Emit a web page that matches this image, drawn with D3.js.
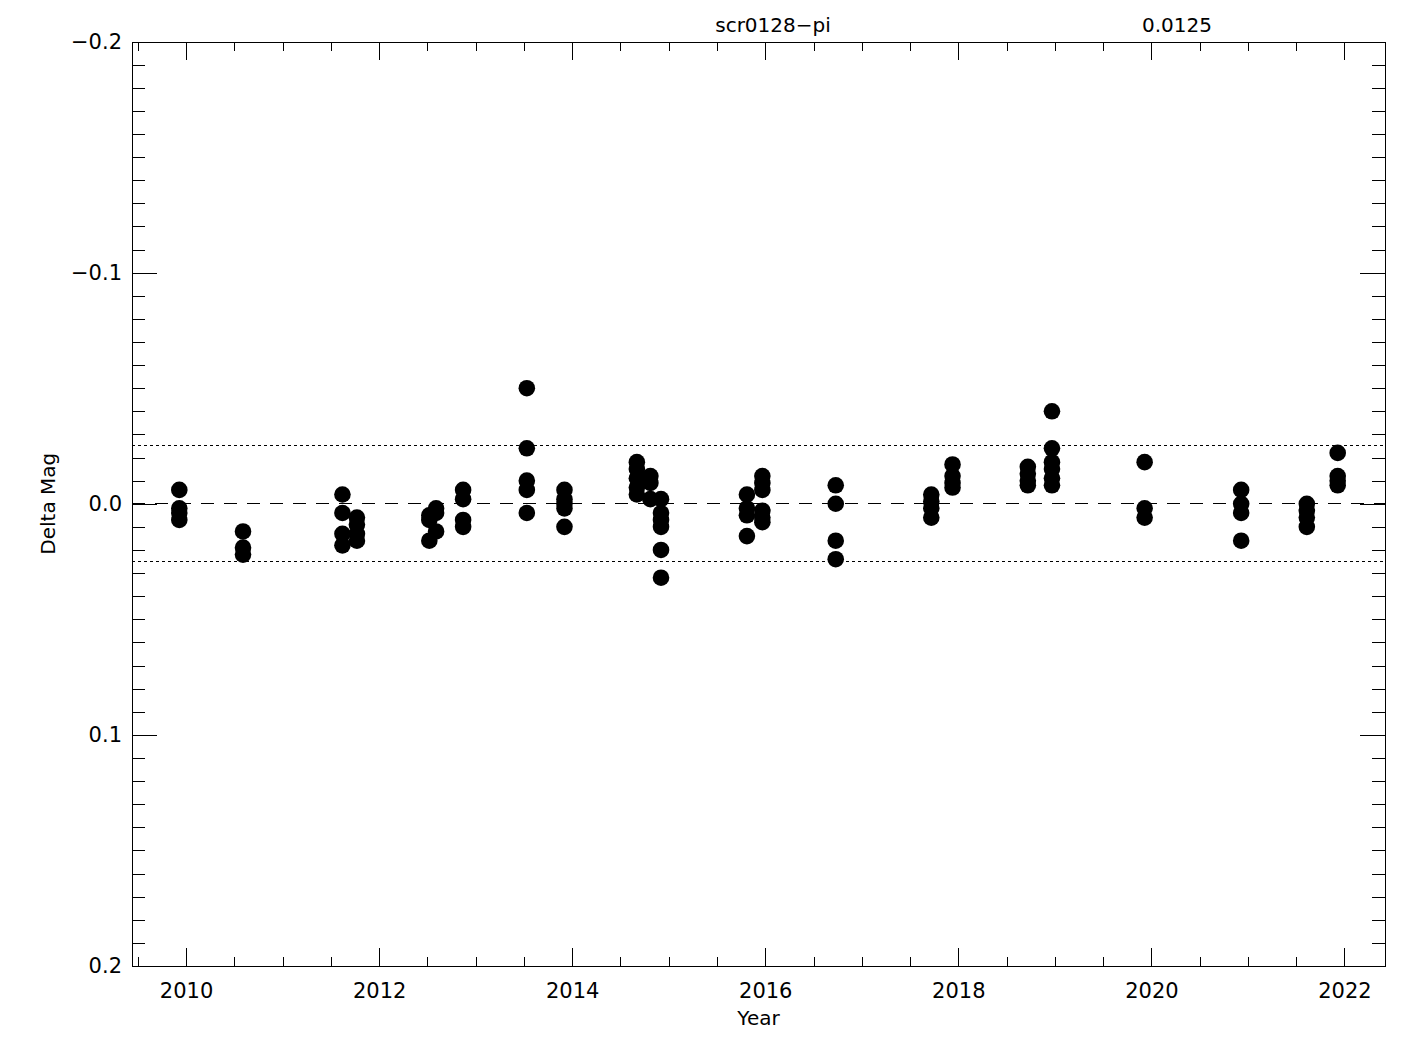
<!DOCTYPE html>
<html>
<head>
<meta charset="utf-8">
<script src="https://cdn.jsdelivr.net/npm/d3@7"></script>
<style>
  body { margin: 0; background: #fff; }
  text { font-family: 'DejaVu Sans', sans-serif; fill: #000; }
  .domain, .tick line { stroke: #000; stroke-width: 1; shape-rendering: crispEdges; }
</style>
</head>
<body>
<div id="chart"></div>
<script>
// Data: one epoch per visit, several delta mags for each
const epochs = [2009.93, 2010.59, 2011.62, 2011.77, 2012.52, 2012.59, 2012.87,
  2013.53, 2013.92, 2014.67, 2014.81, 2014.92, 2015.81, 2015.97, 2016.73,
  2017.72, 2017.94, 2018.72, 2018.97, 2019.93, 2020.93, 2021.61, 2021.93]
const deltas = [
  [-0.006, 0.002, 0.004, 0.007],
  [0.012, 0.019, 0.022],
  [-0.004, 0.004, 0.013, 0.018],
  [0.006, 0.009, 0.013, 0.016],
  [0.005, 0.007, 0.016],
  [0.002, 0.004, 0.012],
  [-0.006, -0.002, 0.007, 0.010],
  [-0.050, -0.024, -0.010, -0.006, 0.004],
  [-0.006, -0.002, 0.000, 0.002, 0.010],
  [-0.018, -0.015, -0.011, -0.007, -0.004],
  [-0.012, -0.009, -0.002],
  [-0.002, 0.004, 0.007, 0.010, 0.020, 0.032],
  [-0.004, 0.002, 0.005, 0.014],
  [-0.012, -0.009, -0.006, 0.003, 0.006, 0.008],
  [-0.008, 0.000, 0.016, 0.024],
  [-0.004, -0.001, 0.002, 0.006],
  [-0.017, -0.012, -0.009, -0.007],
  [-0.016, -0.013, -0.010, -0.008],
  [-0.040, -0.024, -0.018, -0.015, -0.011, -0.008],
  [-0.018, 0.002, 0.006],
  [-0.006, 0.000, 0.004, 0.016],
  [0.000, 0.003, 0.006, 0.010],
  [-0.022, -0.012, -0.010, -0.008]
]
const xTickValues = [2010, 2012, 2014, 2016, 2018, 2020, 2022]
const yTickValues = [-0.2, -0.1, 0.0, 0.1, 0.2]
const yTickLabels = ['\u22120.2', '\u22120.1', '0.0', '0.1', '0.2']
const refLines = [-0.025, 0.025]
const starName = 'scr0128\u2212pi'
const scatterText = '0.0125'

// Initialization
const width = 1425
const height = 1050
const plot = { left: 132, right: 1385, top: 41.5, bottom: 966 }

const svg = d3.select('#chart').append('svg')
  .attr('width', width)
  .attr('height', height)

const x = d3.scaleLinear().domain([2009.44, 2022.42]).range([plot.left, plot.right])
const y = d3.scaleLinear().domain([-0.2, 0.2]).range([plot.top, plot.bottom])

const plotW = plot.right - plot.left
const plotH = plot.bottom - plot.top
const xMajor = plotH * 0.02
const yMajor = plotW * 0.02

// Minor ticks
const xMinor = d3.range(2009.5, 2022.45, 0.5)
const yMinor = d3.range(-20, 21).map(d => d / 100)

// Bottom axis
svg.append('g')
  .attr('transform', `translate(0,${plot.bottom})`)
  .call(d3.axisBottom(x).tickValues(xMinor).tickSize(-xMajor / 2).tickFormat(''))
svg.append('g')
  .attr('transform', `translate(0,${plot.bottom})`)
  .call(d3.axisBottom(x).tickValues(xTickValues).tickSize(-xMajor).tickPadding(17)
    .tickFormat(d3.format('d')))
  .selectAll('text').style('font-size', '21px')

// Top axis
svg.append('g')
  .attr('transform', `translate(0,${plot.top})`)
  .call(d3.axisTop(x).tickValues(xMinor).tickSize(-xMajor / 2).tickFormat(''))
svg.append('g')
  .attr('transform', `translate(0,${plot.top})`)
  .call(d3.axisTop(x).tickValues(xTickValues).tickSize(-xMajor).tickFormat(''))

// Left axis
svg.append('g')
  .attr('transform', `translate(${plot.left},0)`)
  .call(d3.axisLeft(y).tickValues(yMinor).tickSize(-yMajor / 2).tickFormat(''))
svg.append('g')
  .attr('transform', `translate(${plot.left},0)`)
  .call(d3.axisLeft(y).tickValues(yTickValues).tickSize(-yMajor).tickPadding(10)
    .tickFormat((d, i) => yTickLabels[i]))
  .selectAll('text').style('font-size', '21px')

// Right axis
svg.append('g')
  .attr('transform', `translate(${plot.right},0)`)
  .call(d3.axisRight(y).tickValues(yMinor).tickSize(-yMajor / 2).tickFormat(''))
svg.append('g')
  .attr('transform', `translate(${plot.right},0)`)
  .call(d3.axisRight(y).tickValues(yTickValues).tickSize(-yMajor).tickFormat(''))

svg.selectAll('.domain').attr('fill', 'none')

// Zero line and limits
svg.append('line')
  .attr('x1', plot.left).attr('x2', plot.right)
  .attr('y1', y(0)).attr('y2', y(0))
  .attr('stroke', '#000')
  .attr('stroke-dasharray', '13,10')
  .style('shape-rendering', 'crispEdges')

svg.selectAll('.ref')
  .data(refLines)
  .enter()
  .append('line')
  .attr('class', 'ref')
  .attr('x1', plot.left).attr('x2', plot.right)
  .attr('y1', d => y(d)).attr('y2', d => y(d))
  .attr('stroke', '#000')
  .attr('stroke-dasharray', '3,3')
  .style('shape-rendering', 'crispEdges')

// Points
const points = epochs.flatMap((yr, i) => deltas[i].map(v => [yr, v]))
svg.selectAll('.pt')
  .data(points)
  .enter()
  .append('circle')
  .attr('class', 'pt')
  .attr('cx', d => x(d[0]))
  .attr('cy', d => y(d[1]))
  .attr('r', 8.3)
  .attr('fill', '#000')

// Labels
svg.append('text')
  .attr('x', (plot.left + plot.right) / 2)
  .attr('y', 1025)
  .attr('text-anchor', 'middle')
  .style('font-size', '20px')
  .text('Year')

svg.append('text')
  .attr('transform', `translate(55,${y(0)}) rotate(-90)`)
  .attr('text-anchor', 'middle')
  .style('font-size', '20px')
  .text('Delta Mag')

svg.append('text')
  .attr('x', 773)
  .attr('y', 32)
  .attr('text-anchor', 'middle')
  .style('font-size', '20px')
  .text(starName)

svg.append('text')
  .attr('x', 1177)
  .attr('y', 32)
  .attr('text-anchor', 'middle')
  .style('font-size', '20px')
  .text(scatterText)
</script>
</body>
</html>
